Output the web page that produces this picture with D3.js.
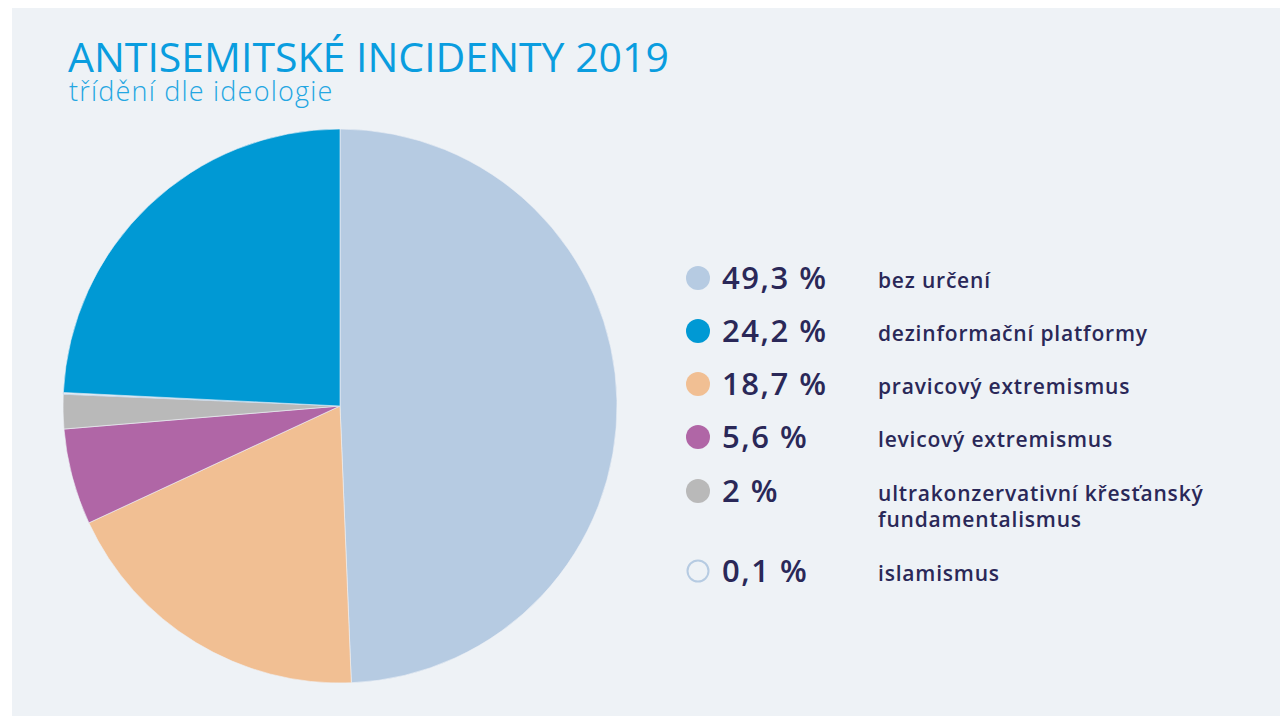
<!DOCTYPE html>
<html>
<head>
<meta charset="utf-8">
<script src="https://cdn.jsdelivr.net/npm/d3@7"></script>
<style>
  body { margin: 0; background: #ffffff; }
  svg { display: block; }
</style>
</head>
<body>
<div id="chart"></div>
<script>
// Data
const shares = [49.3, 18.7, 5.6, 2, 0.1, 24.2];
const labels = ["bez určení", "pravicový extremismus", "levicový extremismus",
  "ultrakonzervativní křesťanský fundamentalismus", "islamismus", "dezinformační platformy"];
const shareText = ["49,3 %", "18,7 %", "5,6 %", "2 %", "0,1 %", "24,2 %"];
const colors = ["#b6cbe2", "#f1bf93", "#b066a6", "#b9b9b9", "#eef2f6", "#0099d4"];
// legend order (indexes into arrays above)
const legendOrder = [0, 5, 1, 2, 3, 4];

const width = 1280, height = 716;
const bg = "#eef2f6";

const svg = d3.select("#chart").append("svg")
    .attr("width", width)
    .attr("height", height);

svg.append("rect")
    .attr("x", 12).attr("y", 8)
    .attr("width", width - 12).attr("height", height - 8)
    .attr("fill", bg);

// Title
svg.append("text")
    .attr("x", 68).attr("y", 72)
    .attr("fill", "#0a9ddf")
    .style("font", "400 41px 'Open Sans', sans-serif")
    .text("ANTISEMITSKÉ INCIDENTY 2019");

svg.append("text")
    .attr("x", 69).attr("y", 101)
    .attr("fill", "#23a6e2")
    .style("font", "300 27px 'Open Sans', sans-serif")
    .style("letter-spacing", "1.2px")
    .text("třídění dle ideologie");

// Pie
const cx = 340, cy = 406, radius = 277;

const pie = d3.pie().sort(null).value(d => d);
const arc = d3.arc().innerRadius(0).outerRadius(radius);

svg.append("g")
    .attr("transform", `translate(${cx},${cy})`)
    .selectAll("path")
    .data(pie(shares))
    .join("path")
    .attr("d", arc)
    .attr("fill", (d, i) => colors[i])
    .attr("stroke", (d, i) => i === 4 ? "#b6cbe2" : "#eef2f6")
    .attr("stroke-width", 0.6);

// Legend
const rowY = [278, 331, 384, 437, 491, 571];

const legend = svg.append("g")
    .selectAll("g")
    .data(legendOrder)
    .join("g")
    .attr("transform", (d, i) => `translate(0,${rowY[i]})`);

legend.append("circle")
    .attr("cx", 698)
    .attr("r", (d) => d === 4 ? 10.5 : 12)
    .attr("fill", d => d === 4 ? bg : colors[d])
    .attr("stroke", d => d === 4 ? "#b6cbe2" : "none")
    .attr("stroke-width", 2);

legend.append("text")
    .attr("x", 722)
    .attr("y", 11)
    .attr("fill", "#2a2858")
    .style("font", "600 31px 'Open Sans', sans-serif")
    .style("letter-spacing", "1.5px")
    .text(d => shareText[d]);

legend.append("text")
    .attr("x", 878)
    .attr("y", 10)
    .attr("fill", "#2a2858")
    .style("font", "600 21px 'Open Sans', sans-serif")
    .style("letter-spacing", "0.8px")
    .each(function(d) {
      const t = d3.select(this);
      if (d === 3) {
        t.append("tspan").attr("x", 878).text("ultrakonzervativní křesťanský");
        t.append("tspan").attr("x", 878).attr("dy", 26).text("fundamentalismus");
      } else {
        t.text(labels[d]);
      }
    });
</script>
</body>
</html>
